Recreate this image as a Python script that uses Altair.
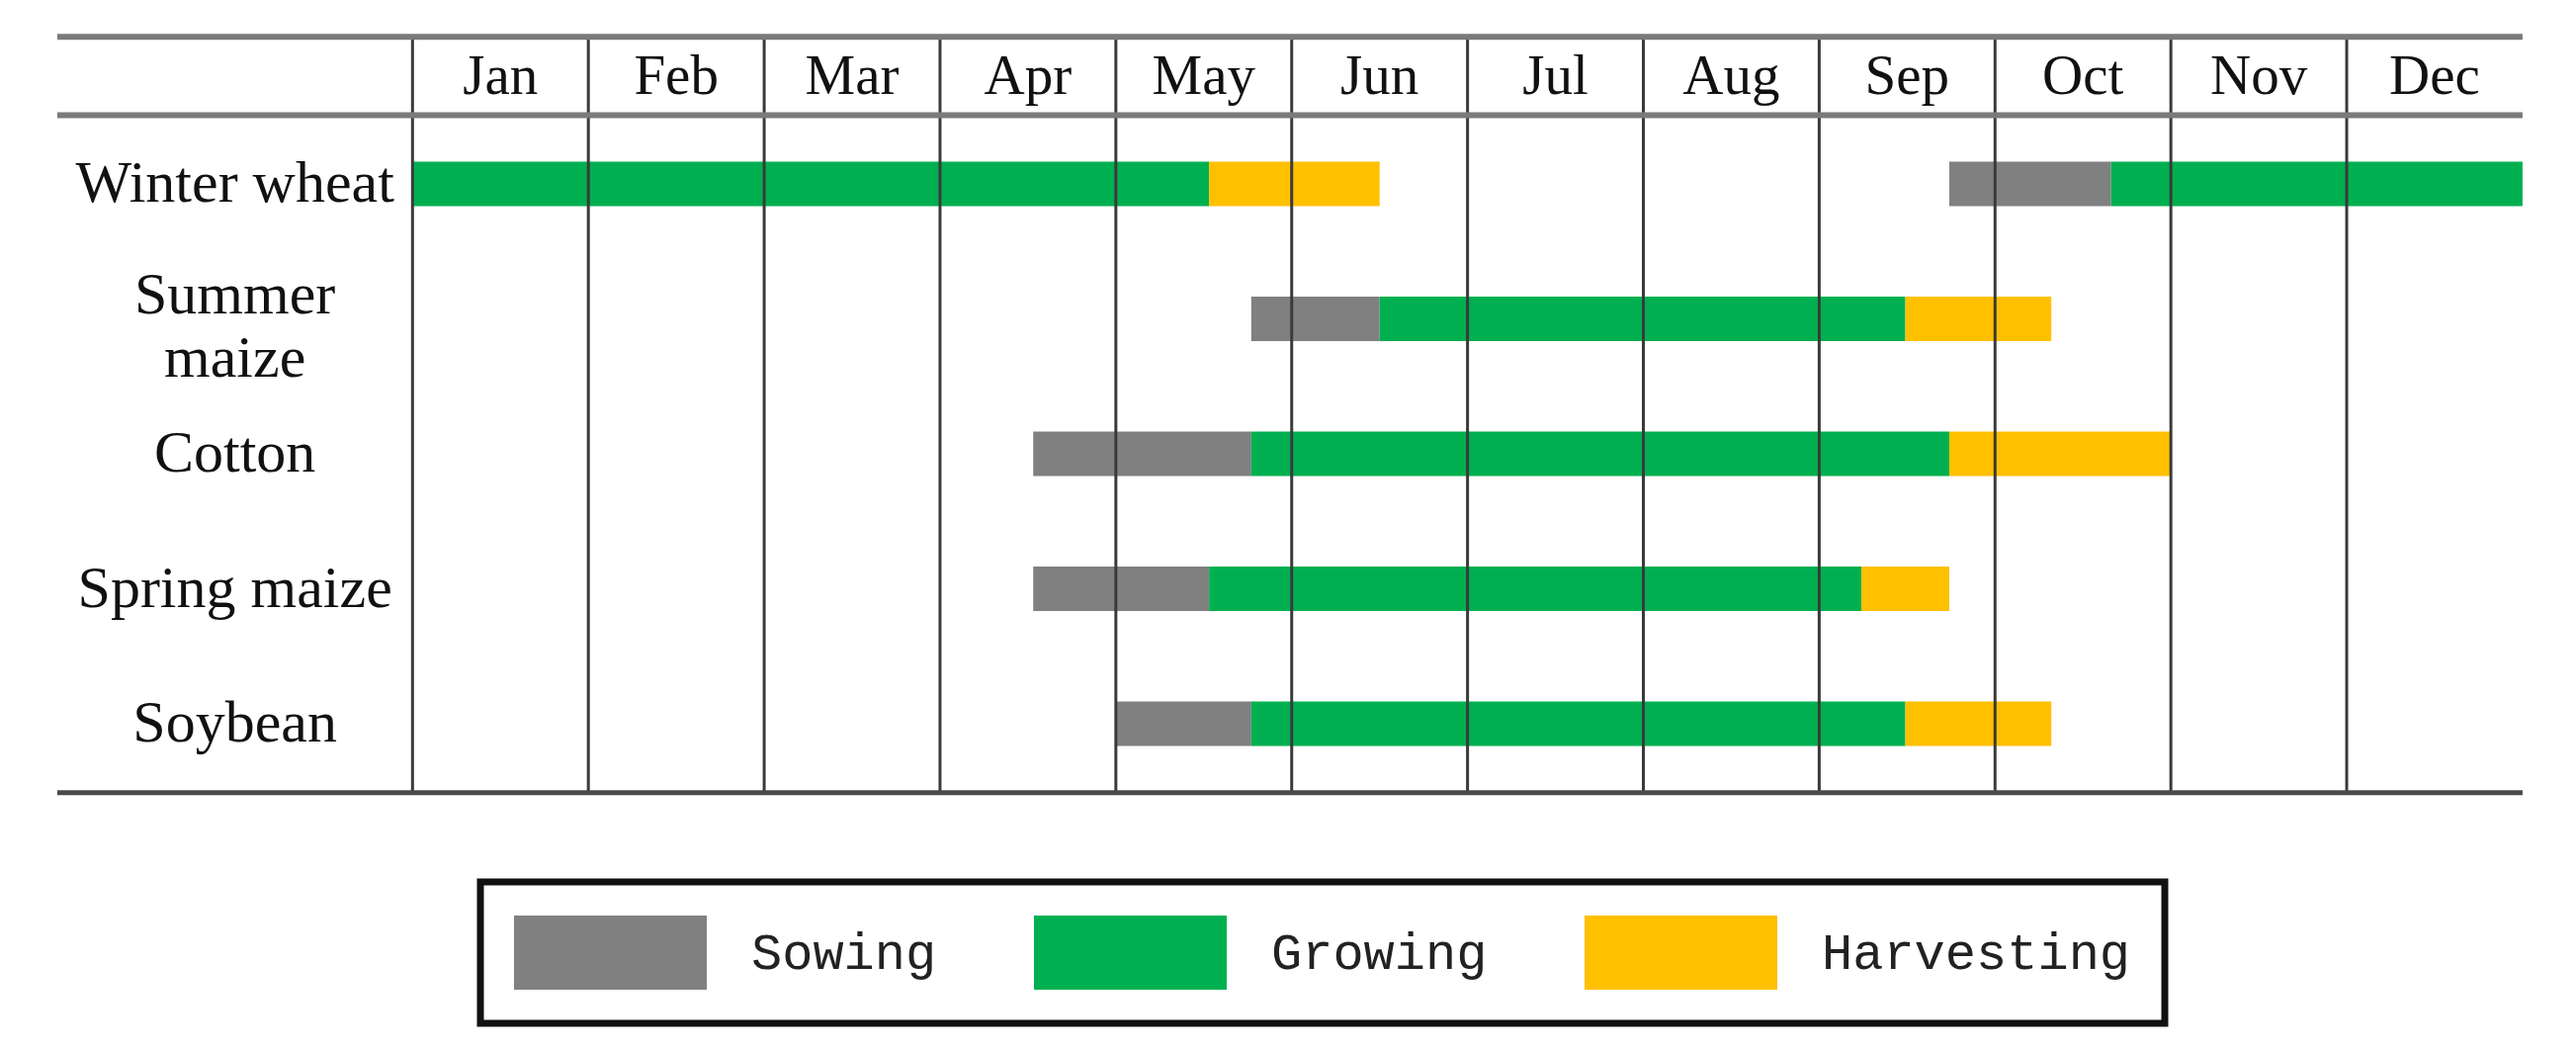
import altair as alt
import pandas as pd

# ---------------- data ----------------
months = ["Jan", "Feb", "Mar", "Apr", "May", "Jun",
          "Jul", "Aug", "Sep", "Oct", "Nov", "Dec"]
crops = ["Winter wheat", "Summer maize", "Cotton", "Spring maize", "Soybean"]
crop_labels = ["Winter wheat", "Summer\nmaize", "Cotton", "Spring maize", "Soybean"]
phases = ["Sowing", "Growing", "Harvesting"]
phase_colors = ["#808080", "#00B050", "#FFC000"]

# stage segments, in months from 1 Jan (0 = start of Jan, 12 = end of Dec)
seg_crop = ["Winter wheat", "Winter wheat", "Winter wheat", "Winter wheat",
            "Summer maize", "Summer maize", "Summer maize",
            "Cotton", "Cotton", "Cotton",
            "Spring maize", "Spring maize", "Spring maize",
            "Soybean", "Soybean", "Soybean"]
seg_phase = ["Growing", "Harvesting", "Sowing", "Growing",
             "Sowing", "Growing", "Harvesting",
             "Sowing", "Growing", "Harvesting",
             "Sowing", "Growing", "Harvesting",
             "Sowing", "Growing", "Harvesting"]
seg_start = [0.0, 4.53, 8.74, 9.66,
             4.77, 5.50, 8.49,
             3.53, 4.77, 8.74,
             3.53, 4.53, 8.24,
             4.00, 4.77, 8.49]
seg_end = [4.53, 5.50, 9.66, 12.0,
           5.50, 8.49, 9.32,
           4.77, 8.74, 10.0,
           4.53, 8.24, 8.74,
           4.77, 8.49, 9.32]

# ---------------- layout constants ----------------
W, H = 2590, 1047
LABEL_COL = -2.02          # left edge of the label column (month units)
HEADER_Y = 0.21            # row position of the month header
TOP_RULE, HEAD_RULE, BOTTOM_RULE = -0.09, 0.49, 5.51
HALF_BAR = 0.165

xs = alt.Scale(domain=[-2.301, 12.259], nice=False, zero=False)
ys = alt.Scale(domain=[-0.304, 7.366], nice=False, zero=False, reverse=True)

row_of = {c: i + 1 for i, c in enumerate(crops)}

bars_df = pd.DataFrame({
    "crop": seg_crop, "phase": seg_phase,
    "start": seg_start, "end": seg_end,
})
bars_df["y0"] = bars_df["crop"].map(row_of) - HALF_BAR
bars_df["y1"] = bars_df["crop"].map(row_of) + HALF_BAR

vlines_df = pd.DataFrame({"x": list(range(12))})
vlines_df["y0"] = TOP_RULE
vlines_df["y1"] = BOTTOM_RULE

hrules_df = pd.DataFrame({"y": [TOP_RULE, HEAD_RULE]})
hrules_df["x0"] = LABEL_COL
hrules_df["x1"] = 12
brule_df = pd.DataFrame({"y": [BOTTOM_RULE], "x0": [LABEL_COL], "x1": [12]})

months_df = pd.DataFrame({"m": months, "x": [i + 0.5 for i in range(12)]})
months_df["y"] = HEADER_Y

single = [lbl for lbl in crop_labels if "\n" not in lbl]
multi = [lbl for lbl in crop_labels if "\n" in lbl]
crops_df = pd.DataFrame({"label": single,
                         "y": [crop_labels.index(l) + 1 for l in single]})
crops_df["x"] = LABEL_COL / 2
crops2_df = pd.DataFrame({"label": multi,
                          "y": [crop_labels.index(l) + 1 for l in multi]})
crops2_df["x"] = LABEL_COL / 2

bars = alt.Chart(bars_df).mark_rect().encode(
    x=alt.X("start:Q", scale=xs, axis=None),
    x2="end:Q",
    y=alt.Y("y0:Q", scale=ys, axis=None),
    y2="y1:Q",
    color=alt.Color(
        "phase:N",
        scale=alt.Scale(domain=phases, range=phase_colors),
        title=None,
        legend=alt.Legend(
            orient="none", legendX=478, legendY=884,
            direction="horizontal", columns=3,
            symbolType="M-1,-0.385H1V0.385H-1Z", symbolSize=38025,
            symbolStrokeWidth=0, symbolOpacity=1, clipHeight=75,
            labelFont="Liberation Mono", labelFontSize=52, labelColor="#222222",
            labelOffset=45, labelLimit=600, columnPadding=98, padding=34,
            strokeColor="#111111", fillColor="white",
        ),
    ),
)

vlines = alt.Chart(vlines_df).mark_rule(color="#3a3a3a", strokeWidth=3).encode(
    x=alt.X("x:Q", scale=xs, axis=None),
    y=alt.Y("y0:Q", scale=ys, axis=None),
    y2="y1:Q",
)

hrules = alt.Chart(hrules_df).mark_rule(color="#7a7a7a", strokeWidth=6).encode(
    x=alt.X("x0:Q", scale=xs, axis=None),
    x2="x1:Q",
    y=alt.Y("y:Q", scale=ys, axis=None),
)

brule = alt.Chart(brule_df).mark_rule(color="#4a4a4a", strokeWidth=5).encode(
    x=alt.X("x0:Q", scale=xs, axis=None),
    x2="x1:Q",
    y=alt.Y("y:Q", scale=ys, axis=None),
)

month_text = alt.Chart(months_df).mark_text(
    font="Liberation Serif", fontSize=57, color="#111111",
    align="center", baseline="middle",
).encode(
    x=alt.X("x:Q", scale=xs, axis=None),
    y=alt.Y("y:Q", scale=ys, axis=None),
    text="m:N",
)

crop_text = alt.Chart(crops_df).mark_text(
    font="Liberation Serif", fontSize=60, color="#111111",
    align="center", baseline="middle",
).encode(
    x=alt.X("x:Q", scale=xs, axis=None),
    y=alt.Y("y:Q", scale=ys, axis=None),
    text="label:N",
)

crop_text2 = alt.Chart(crops2_df).mark_text(
    font="Liberation Serif", fontSize=60, color="#111111",
    align="center", baseline="middle", lineBreak="\n", lineHeight=64, dy=-24,
).encode(
    x=alt.X("x:Q", scale=xs, axis=None),
    y=alt.Y("y:Q", scale=ys, axis=None),
    text="label:N",
)

chart = alt.layer(bars, vlines, hrules, brule, month_text, crop_text, crop_text2).properties(
    width=W, height=H, padding=0,
).configure_view(strokeWidth=0).configure_legend(strokeWidth=7)

chart.save("out.html", embed_options={"renderer": "svg", "actions": False})
